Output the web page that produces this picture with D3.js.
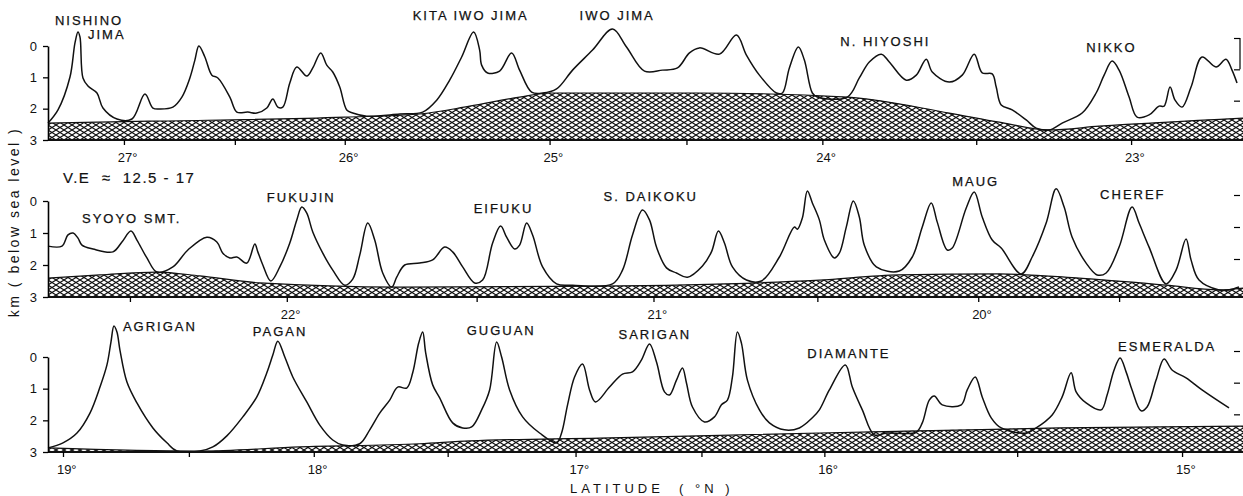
<!DOCTYPE html>
<html>
<head>
<meta charset="utf-8">
<script src="https://cdn.jsdelivr.net/npm/d3@7"></script>
<style>
  body { margin: 0; background: #fff; }
  text { font-family: "Liberation Sans", Arial, sans-serif; fill: #111; }
  .name { font-size: 13px; letter-spacing: 2px; stroke: #111; stroke-width: 0.25px; }
  .tick text { font-size: 13px; }
</style>
</head>
<body>
<div id="chart"></div>
<script>
// distance along track (km), depth below sea level (km)
var profile1 = [[0,2.46],[5,2.04],[11,0.99],[13.5,-0.10],[15,-0.45],[16,-0.29],[17.5,1.02],[20,1.28],[24.5,1.50],[27.5,1.98],[34.5,2.33],[42,2.33],[48.5,1.53],[52.5,1.98],[56,2.01],[62.5,1.95],[67,1.63],[71,1.02],[73.5,0.45],[75.5,0.00],[78.5,0.35],[82,0.93],[85,1.02],[91,1.63],[94.5,2.11],[100,2.11],[104.5,2.14],[109.5,1.98],[112.5,1.69],[115,1.95],[117.5,1.95],[121,1.18],[124.5,0.67],[129.5,0.96],[132.5,0.70],[136.5,0.22],[139.5,0.61],[142.5,0.83],[146,1.31],[149.5,2.04],[152.5,2.14],[159.5,2.24],[176,2.17],[187.5,2.11],[194.5,1.73],[201,1.09],[207,0.35],[213,-0.45],[216,0.13],[217,0.61],[220,0.86],[226,0.80],[232,0.22],[236,0.77],[242,1.47],[247.5,1.50],[254.5,1.37],[262.5,0.77],[272.5,0.13],[282.5,-0.54],[289.5,0.03],[298.5,0.80],[307.5,0.77],[315,0.70],[321,0.22],[326,0.06],[336,0.26],[344.5,-0.35],[349.5,0.29],[356,0.93],[364.5,1.50],[367.5,1.50],[371,0.70],[375.5,0.03],[378.5,0.45],[382.5,1.50],[385,1.63],[400,1.63],[406,1.02],[411,0.51],[417,0.26],[421,0.51],[429.5,1.09],[434.5,0.93],[439.5,0.42],[442.5,0.83],[451,1.15],[457.5,0.93],[463.5,0.26],[467.5,0.86],[472.5,0.89],[474.5,1.31],[477,1.88],[482.5,2.04],[489.5,2.36],[494.5,2.62],[501,2.68],[507.5,2.46],[517.5,2.14],[524.5,1.50],[528.5,0.93],[532.5,0.48],[536,0.77],[541,1.63],[545,2.27],[551,2.20],[556,1.92],[558.5,1.92],[561.5,1.31],[564,1.73],[567.5,1.95],[572,1.31],[577.5,0.35],[584.5,0.67],[589.5,0.42],[592.5,0.77],[595,1.18]];
var basement1 = [[0,2.46],[51,2.40],[148.5,2.27],[186,2.17],[211,1.92],[236,1.63],[251,1.50],[276,1.50],[326,1.50],[400,1.63],[451,2.14],[476,2.43],[501,2.68],[526,2.56],[598,2.30]];
var lats1 = [[27,38],[26.5,93.5],[26,148.5],[25,251],[24.5,319.5],[24,387.5],[23.5,464.5],[23,542]];
var names1 = [["NISHINO",3.5,-0.68],["JIMA",20,-0.22],["KITA IWO JIMA",182.5,-0.83],["IWO JIMA",266,-0.83],["N. HIYOSHI",396.5,0.0],["NIKKO",519.5,0.19]];

var profile2 = [[0,1.41],[7,1.41],[10,1.06],[12.5,1.00],[15,1.16],[17,1.38],[22.5,1.50],[32.5,1.59],[37,1.28],[41.5,0.94],[44.5,1.22],[49.5,1.78],[54.5,2.22],[62.5,2.06],[70,1.53],[79.5,1.13],[84.5,1.28],[87.5,1.63],[91,1.78],[94.5,1.75],[99.5,1.94],[103.5,1.34],[105,1.59],[107.5,2.00],[111.5,2.50],[116,2.06],[121,1.31],[124.5,0.59],[127,0.19],[129.5,0.38],[132.5,0.97],[137.5,1.63],[142.5,2.16],[148.5,2.63],[152.5,2.44],[156,1.69],[160,0.69],[163.5,1.22],[167.5,2.25],[172,2.69],[174.5,2.38],[178.5,2.00],[186,1.94],[192.5,1.84],[198.5,1.44],[202.5,1.59],[207.5,2.06],[213.5,2.56],[217.5,2.47],[222.5,1.31],[226.5,0.78],[229.5,1.13],[233.5,1.50],[236,1.38],[239.5,0.69],[242.5,1.06],[247.5,2.06],[254.5,2.59],[262.5,2.63],[282.5,2.59],[287.5,2.16],[292.5,1.06],[297.5,0.28],[301,0.59],[304.5,1.44],[309.5,2.09],[314.5,2.25],[320,2.38],[327.5,2.03],[332,1.59],[335.5,0.94],[338.5,1.31],[342.5,2.06],[349.5,2.47],[357,2.50],[366,1.75],[373.5,0.81],[375,0.88],[377.5,0.53],[380,-0.31],[382.5,0.06],[386,0.59],[388.5,1.22],[393.5,1.78],[396,1.63],[399.5,0.81],[403,0.00],[406,0.50],[408.5,1.38],[414.5,2.06],[426,2.19],[432.5,1.75],[437.5,0.81],[442,0.06],[445,0.66],[450,1.53],[452.5,1.47],[459.5,0.22],[463.5,-0.28],[467.5,0.50],[472.5,1.22],[477,1.47],[487,2.28],[492.5,1.75],[499.5,0.69],[504.5,-0.38],[508.5,0.19],[512.5,1.13],[519.5,1.94],[525,2.31],[529.5,2.25],[536,1.44],[542.5,0.19],[546,0.69],[551,1.44],[559.5,2.59],[564.5,2.16],[569.5,1.19],[572,1.84],[576,2.47],[586,2.78],[591,2.78],[596,2.69]];
var basement2 = [[0,2.41],[26,2.31],[54.5,2.22],[76,2.34],[106,2.56],[176,2.69],[276,2.66],[386,2.47],[426,2.31],[476,2.28],[516,2.41],[559.5,2.63],[586,2.78],[598,2.72]];
var lats2 = [[22.5,41],[22,119.5],[21.5,214.5],[21,303],[20.5,385],[20,465.5],[19.5,536]];
var names2 = [["SYOYO SMT.",17,0.69],["FUKUJIN",109.5,0.03],["EIFUKU",213,0.38],["S. DAIKOKU",278,0.0],["MAUG",452.5,-0.47],["CHEREF",526.5,-0.06]];

var profile3 = [[0,2.87],[7.5,2.71],[14.5,2.40],[21,1.77],[26,0.95],[29.5,0.25],[31.5,-0.47],[33,-0.98],[34.5,-0.79],[36,-0.22],[39.5,0.79],[44.5,1.45],[52.5,2.24],[59.5,2.71],[64.5,2.97],[76,2.97],[82.5,2.84],[89.5,2.49],[97.5,1.89],[104.5,1.26],[109.5,0.50],[112.5,-0.06],[115,-0.50],[118.5,0.00],[122.5,0.63],[129.5,1.42],[136,2.15],[142.5,2.62],[147.5,2.78],[156,2.74],[161,2.30],[166,1.77],[171,1.36],[175,0.95],[179.5,0.98],[182.5,0.50],[185.5,-0.44],[187.5,-0.79],[189,-0.13],[192.5,0.88],[196,1.29],[202.5,2.08],[207.5,2.24],[212,2.21],[217,1.67],[221,1.04],[224.5,-0.47],[227,0.00],[231,1.04],[237.5,1.89],[246,2.40],[254.5,2.71],[257,2.40],[260,1.51],[263.5,0.63],[267.5,0.22],[271,1.04],[274,1.42],[281,0.95],[287.5,0.54],[292.5,0.47],[297,0.09],[301,-0.41],[304.5,0.16],[308.5,1.10],[311,1.20],[314.5,0.73],[317.5,0.35],[319.5,0.82],[322.5,1.58],[328.5,2.05],[333.5,1.89],[337,1.51],[340,1.36],[342.5,0.63],[345,-0.79],[347,-0.44],[350,0.73],[356,1.67],[361,2.08],[368.5,2.30],[376,2.24],[382.5,1.92],[386,1.67],[391,1.04],[399,0.25],[402.5,0.95],[407.5,1.67],[413.5,2.46],[419.5,2.40],[434.5,2.37],[437.5,2.08],[441,1.36],[443.5,1.23],[447.5,1.51],[457,1.51],[460,1.04],[464,0.63],[467.5,1.26],[472,1.92],[477,2.24],[489.5,2.40],[494.5,2.24],[502.5,1.83],[507.5,1.26],[512,0.50],[514.5,1.10],[519.5,1.45],[527,1.67],[530,1.20],[533.5,0.41],[536.5,0.03],[539.5,0.47],[542.5,1.04],[547,1.70],[550,1.58],[554.5,0.73],[558.5,0.06],[562.5,0.41],[569.5,0.66],[577.5,1.04],[591,1.61]];
var basement3 = [[0,2.87],[76,2.97],[126,2.84],[186,2.74],[211,2.65],[276,2.56],[386,2.40],[506,2.24],[598,2.18]];
var lats3 = [[19,7.5],[18.5,70.5],[18,133],[17.5,200],[17,264],[16.5,327],[16,388.5],[15.5,485],[15,567.5]];
var names3 = [["AGRIGAN",37.5,-0.82],["PAGAN",102.5,-0.66],["GUGUAN",209.5,-0.69],["SARIGAN",285.5,-0.57],["DIAMANTE",380,0.03],["ESMERALDA",535.5,-0.19]];

var depthTicks = [0, 1, 2, 3];

var svgWidth = 1243;
var svgHeight = 496;

var svg = d3.select("#chart")
    .append("svg")
    .attr("width", svgWidth)
    .attr("height", svgHeight);

svg.append("rect").attr("width", svgWidth).attr("height", svgHeight).attr("fill", "#fff");

// cross-hatch for the basement
var defs = svg.append("defs");
defs.append("pattern")
    .attr("id", "hatch")
    .attr("patternUnits", "userSpaceOnUse")
    .attr("width", 8)
    .attr("height", 5)
    .append("path")
    .attr("d", "M-2,-1.25L10,6.25M-2,6.25L10,-1.25")
    .attr("stroke", "#111")
    .attr("stroke-width", 1.1);

var x = d3.scaleLinear().domain([0, 598]).range([48, 1243]);

var panels = [
    { profile: profile1, basement: basement1, lats: lats1, names: names1, top: 46, bottom: 140, rightShift: -8, rightLine: true },
    { profile: profile2, basement: basement2, lats: lats2, names: names2, top: 201, bottom: 297, rightShift: -6, rightLine: false },
    { profile: profile3, basement: basement3, lats: lats3, names: names3, top: 357, bottom: 452, rightShift: -6, rightLine: false }
];

panels.forEach(function (p) {
    var y = d3.scaleLinear().domain([0, 3]).range([p.top, p.bottom]);
    var g = svg.append("g");

    // basement
    var area = d3.area()
        .x(d => x(d[0]))
        .y0(y(3))
        .y1(d => y(d[1]))
        .curve(d3.curveMonotoneX);
    g.append("path")
        .datum(p.basement)
        .attr("d", area)
        .attr("fill", "url(#hatch)");
    g.append("path")
        .datum(p.basement)
        .attr("d", d3.line().x(d => x(d[0])).y(d => y(d[1])).curve(d3.curveMonotoneX))
        .attr("fill", "none")
        .attr("stroke", "#111")
        .attr("stroke-width", 1.2);

    // bathymetric profile
    var line = d3.line()
        .x(d => x(d[0]))
        .y(d => y(d[1]))
        .curve(d3.curveCatmullRom.alpha(0.5));
    g.append("path")
        .datum(p.profile)
        .attr("d", line)
        .attr("fill", "none")
        .attr("stroke", "#111")
        .attr("stroke-width", 1.5)
        .attr("stroke-linejoin", "round");

    // baseline
    g.append("line")
        .attr("x1", x(0)).attr("x2", svgWidth)
        .attr("y1", y(3)).attr("y2", y(3))
        .attr("stroke", "#111")
        .attr("stroke-width", 2);

    // left depth axis
    var leftAxis = d3.axisLeft(y).tickValues(depthTicks).tickSize(5).tickSizeOuter(0).tickPadding(6).tickFormat(d3.format("d"));
    var ga = g.append("g").attr("transform", `translate(${x(0)},0)`).call(leftAxis);
    ga.select(".domain").attr("stroke-width", 1.6);
    ga.selectAll(".tick line").attr("stroke-width", 1.3);

    // right tick marks
    var rightAxis = d3.axisLeft(y).tickValues([0, 1, 2]).tickSize(6).tickSizeOuter(0).tickFormat("");
    var gr = g.append("g").attr("transform", `translate(1240,${p.rightShift})`).call(rightAxis);
    gr.selectAll(".tick line").attr("stroke-width", 1.2);
    if (p.rightLine) {
        gr.select(".domain").attr("d", `M0,${y(0)}V${y(1)}`).attr("stroke-width", 1.2);
    } else {
        gr.select(".domain").remove();
    }

    // latitude axis
    var latScale = d3.scaleLinear()
        .domain(p.lats.map(d => d[0]))
        .range(p.lats.map(d => x(d[1])));
    var bottomAxis = d3.axisBottom(latScale)
        .tickValues(p.lats.map(d => d[0]))
        .tickSize(5)
        .tickPadding(8)
        .tickFormat(d => Number.isInteger(d) ? d + "°" : "");
    var gb = g.append("g").attr("transform", `translate(0,${y(3)})`).call(bottomAxis);
    gb.select(".domain").remove();
    gb.selectAll(".tick line").attr("stroke-width", 1.3);
    gb.selectAll(".tick text").attr("dx", "0.25em");

    // volcano names
    g.selectAll(".name")
        .data(p.names)
        .enter()
        .append("text")
        .attr("class", "name")
        .attr("x", d => x(d[1]))
        .attr("y", d => y(d[2]))
        .text(d => d[0]);
});

svg.append("text")
    .attr("x", 63)
    .attr("y", 183)
    .attr("font-size", "15px")
    .attr("letter-spacing", "1.5px")
    .attr("stroke", "#111")
    .attr("stroke-width", 0.2)
    .style("white-space", "pre")
    .text("V.E  ≈  12.5 - 17");

svg.append("text")
    .attr("transform", "translate(19,222) rotate(-90)")
    .attr("text-anchor", "middle")
    .attr("font-size", "14px")
    .attr("letter-spacing", "2.5px")
    .text("km ( below sea level )");

svg.append("text")
    .attr("x", 570)
    .attr("y", 493)
    .attr("font-size", "13px")
    .attr("letter-spacing", "4px")
    .style("white-space", "pre")
    .text("LATITUDE  ( °N )");
</script>
</body>
</html>
